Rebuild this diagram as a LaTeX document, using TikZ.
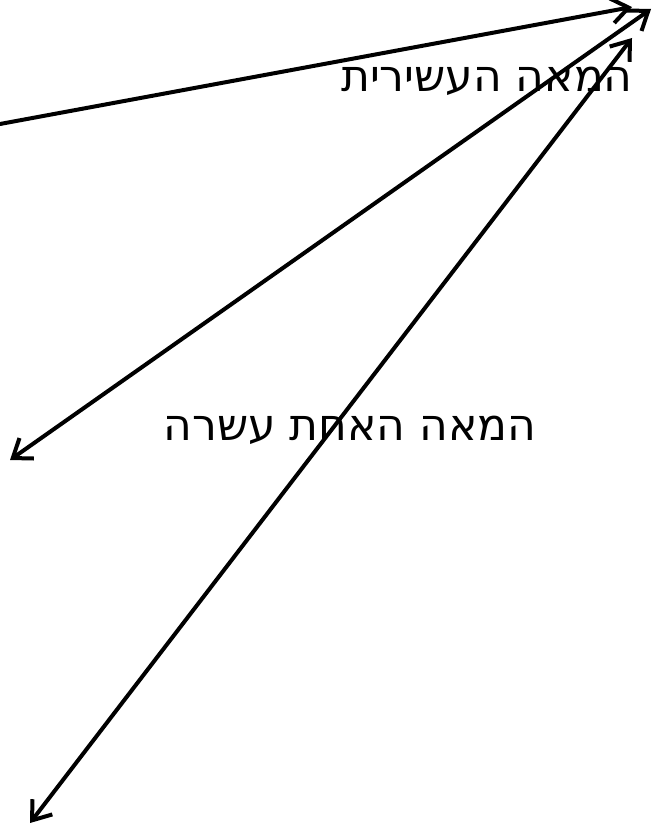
\documentclass[tikz,border=0pt]{standalone}
\usepackage{fontspec}
\usetikzlibrary{arrows.meta}
\TeXXeTstate=1
\newfontfamily\hebfont[Script=Hebrew]{DejaVu Sans}
\tikzset{
  conn/.style={line width=4pt, line cap=round, line join=round},
  tipend/.style={-{Straight Barb[length=17pt,width=25pt,line width=4pt]}},
  tipboth/.style={{Straight Barb[length=17pt,width=25pt,line width=4pt]}-{Straight Barb[length=17pt,width=25pt,line width=4pt]}},
  lbl/.style={font=\hebfont\fontsize{44}{50}\selectfont, inner sep=0pt, anchor=center}
}
\begin{document}
\begin{tikzpicture}[x=1pt,y=-1pt]
\useasboundingbox (0,0) rectangle (654,829);
\coordinate (a1) at (0,124);
\coordinate (a2) at (632,7);
\coordinate (b1) at (10,460);
\coordinate (b2) at (651,9);
\coordinate (c1) at (30,823);
\coordinate (c2) at (632,38);
\node[lbl] (t1) at (487,81) {\beginR המאה העשירית\endR};
\node[lbl] (t2) at (350,430) {\beginR המאה האחת עשרה\endR};
\draw[conn,tipend] (a1) -- (a2);
\draw[conn,tipboth] (b1) -- (b2);
\draw[conn,tipboth] (c1) -- (c2);
\end{tikzpicture}
\end{document}
